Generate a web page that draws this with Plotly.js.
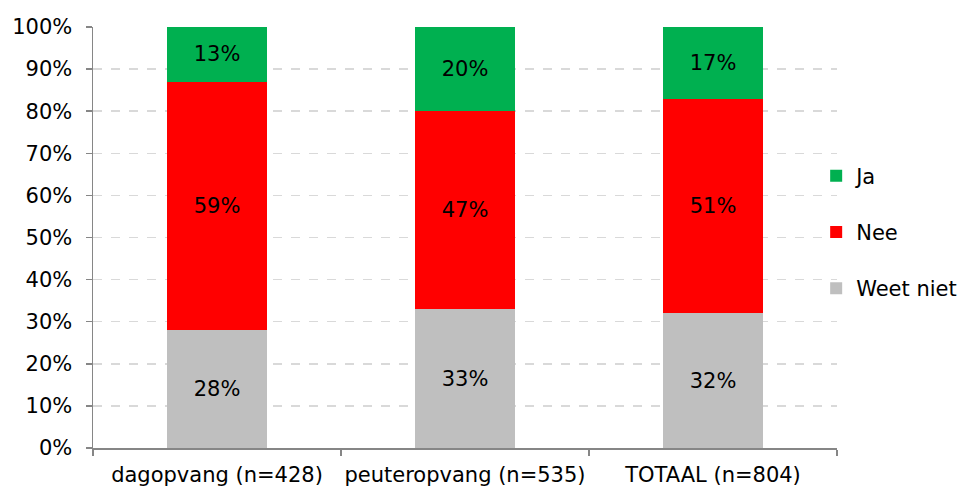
<!DOCTYPE html>
<html><head><meta charset="utf-8">
<script src="https://cdn.plot.ly/plotly-3.0.1.min.js"></script>
<style>html,body{margin:0;padding:0;background:#fff}#chart{width:958px;height:488px}</style>
</head><body><div id="chart"></div>
<script>
const categories = ["dagopvang (n=428)", "peuteropvang (n=535)", "TOTAAL (n=804)"];
const weetNiet = [28, 33, 32];
const nee = [59, 47, 51];
const ja = [13, 20, 17];
const yTicks = [0,10,20,30,40,50,60,70,80,90,100];

const font = {family: "DejaVu Sans, Verdana, sans-serif", size: 21, color: "#000"};
function tr(name, vals, color, grp, rank) {
  return {type: "bar", name: name, x: categories, y: vals,
    marker: {color: color}, width: 0.4,
    text: vals.map(v => v + "%"), textposition: "inside", insidetextanchor: "middle",
    textfont: font, hoverinfo: "none", legendgroup: grp, legendrank: rank};
}
const data = [
  tr("Weet niet", weetNiet, "#bfbfbf", "c", 3),
  tr("Nee", nee, "#ff0000", "b", 2),
  tr("Ja", ja, "#00b050", "a", 1)
];
const layout = {
  width: 958, height: 488,
  margin: {l: 93, r: 121, t: 27, b: 40, autoexpand: false},
  barmode: "stack",
  paper_bgcolor: "#fff", plot_bgcolor: "#fff",
  font: font,
  showlegend: true,
  legend: {x: 0.972, xanchor: "left", y: 0.513, yanchor: "middle", traceorder: "grouped",
    tracegroupgap: 26, font: font, itemwidth: 30, bgcolor: "rgba(0,0,0,0)"},
  xaxis: {type: "category", showline: true, linecolor: "#868686", linewidth: 1.5,
    ticks: "outside", tickson: "boundaries", ticklen: 6, tickcolor: "#868686", tickwidth: 1.5,
    showgrid: false, tickfont: font, tickangle: 0, ticklabelstandoff: 7},
  yaxis: {range: [0, 100], tickvals: yTicks, ticktext: yTicks.map(v => v + "%"),
    showline: true, linecolor: "#868686", linewidth: 1.5,
    ticks: "outside", ticklen: 6, tickcolor: "#868686", tickwidth: 1.5,
    showgrid: true, gridcolor: "#d9d9d9", griddash: "dash", gridwidth: 1.5,
    zeroline: false, tickfont: font, fixedrange: true, ticklabelstandoff: 9}
};
Plotly.newPlot("chart", data, layout, {displayModeBar: false, staticPlot: true});
</script></body></html>
